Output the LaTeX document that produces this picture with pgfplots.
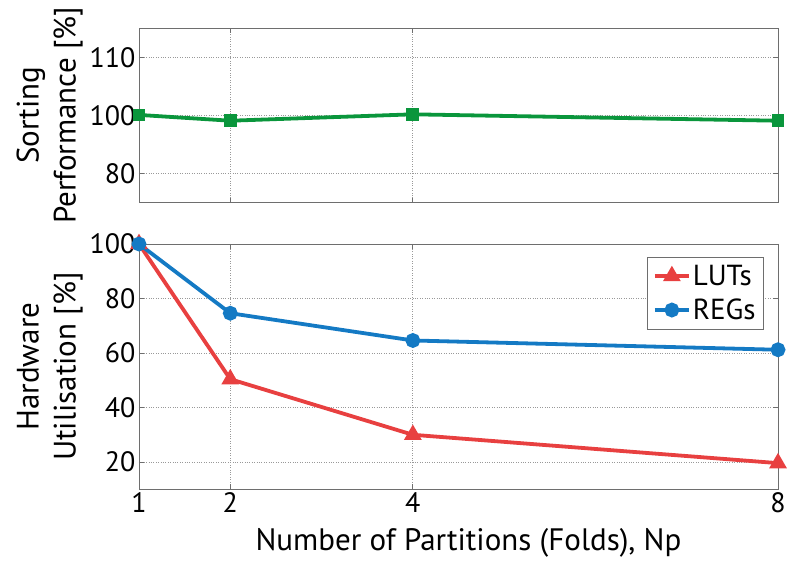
\documentclass[border=0pt]{standalone}
\usepackage{fontspec}
\setmainfont{PT Sans}
\usepackage{pgfplots}
\pgfplotsset{compat=1.18}
\definecolor{cgreen}{RGB}{10,150,60}
\definecolor{cred}{RGB}{232,64,64}
\definecolor{cblue}{RGB}{20,122,196}
\definecolor{cframe}{RGB}{110,110,110}
\begin{document}
\begin{tikzpicture}
\useasboundingbox (-139pt,-79.7pt) rectangle (661pt,489.3pt);
\pgfplotsset{
  myaxis/.style={
    scale only axis, width=639pt, clip=false,
    xmin=1, xmax=8, xtick={1,2,4,8},
    grid=major, grid style={dotted, gray!80, line width=0.9pt},
    axis line style={cframe, line width=0.9pt},
    tick style={cframe, line width=0.8pt},
    tick align=inside, major tick length=5pt,
    /pgf/number format/assume math mode=true,
    tick label style={font=\fontsize{28}{28}\selectfont},
    label style={font=\fontsize{31}{37}\selectfont},
    ylabel style={align=center, xshift=0pt},
  }
}
\begin{axis}[myaxis, at={(0pt,286.6pt)}, anchor=south west, height=174.4pt,
  ymin=85, ymax=115, ytick={90,100,110}, yticklabels={80,100,110},
  xticklabels={}, ylabel={Sorting\\Performance [\%]}]
\addplot[cgreen, line width=3.8pt, mark=square*, mark size=4.5pt] coordinates {
(1,100.1) (2,99.1) (4,100.2) (8,99.1)};
\end{axis}
\begin{axis}[myaxis, at={(0pt,0pt)}, anchor=south west, height=245.3pt,
  ymin=10, ymax=100, ytick={20,40,60,80,100},
  xlabel={Number of Partitions (Folds), Np},
  xlabel style={yshift=-8pt, xshift=10pt},
  ylabel={Hardware\\Utilisation [\%]},
  legend style={at={(rel axis cs:0.978,0.948)}, anchor=north east,
    draw=cframe, line width=0.8pt, font=\fontsize{29}{29}\selectfont,
    inner sep=6pt, row sep=8pt},
  legend cell align=left,
  legend image code/.code={\draw[mark repeat=2,mark phase=2] plot coordinates {(0pt,0pt) (17pt,0pt) (34pt,0pt)};}]
\addplot[cred, line width=3.8pt, mark=triangle*, mark size=6.5pt] coordinates {
(1,100) (2,50.4) (4,30) (8,19.6)};
\addlegendentry{LUTs}
\addplot[cblue, line width=3.8pt, mark=*, mark size=5.5pt] coordinates {
(1,100) (2,74.6) (4,64.6) (8,61.2)};
\addlegendentry{REGs}
\end{axis}
\end{tikzpicture}
\end{document}
